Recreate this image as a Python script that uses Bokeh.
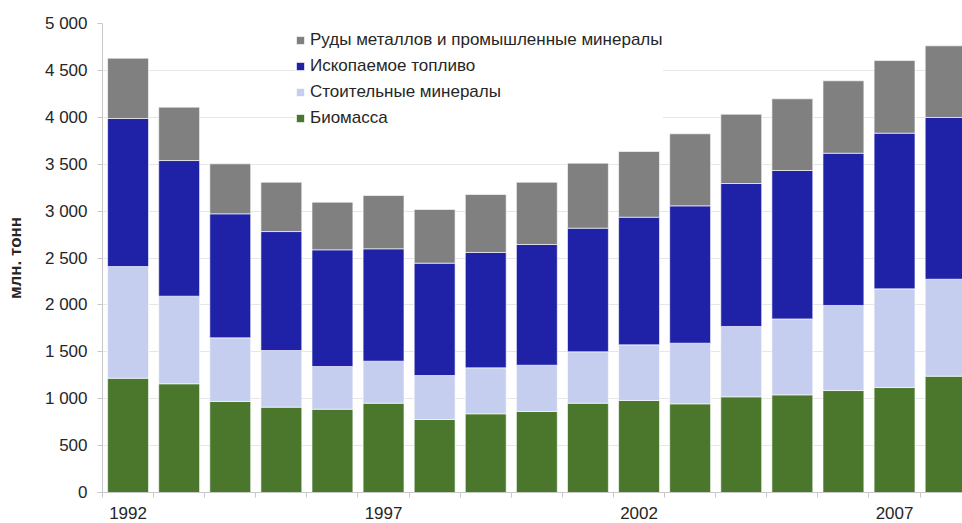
from bokeh.plotting import figure
from bokeh.models import Range1d, FixedTicker, Legend, LegendItem
from bokeh.embed import file_html
from bokeh.resources import INLINE

years = list(range(1992, 2009))
biomass = [1218, 1159, 970, 910, 888, 952, 778, 839, 864, 952, 981, 945, 1020, 1041, 1087, 1119, 1240]
construction = [1191, 934, 679, 604, 455, 448, 469, 490, 493, 548, 593, 647, 750, 810, 907, 1052, 1034]
fossil = [1578, 1446, 1322, 1268, 1244, 1198, 1198, 1230, 1287, 1318, 1361, 1464, 1524, 1582, 1623, 1660, 1724]
ores = [643, 569, 533, 526, 508, 568, 572, 618, 664, 693, 700, 768, 739, 764, 772, 774, 764]

series_keys = ["biomass", "construction", "fossil", "ores"]
series_names = ["Биомасса", "Стоительные минералы", "Ископаемое топливо",
                "Руды металлов и промышленные минералы"]
colors = ["#4a772c", "#c5ceee", "#1f21a6", "#808080"]

label_years = [1992, 1997, 2002, 2007]
y_ticks = list(range(0, 5001, 500))
y_tick_labels = {v: f"{v:,}".replace(",", " ") for v in y_ticks}
y_title = "млн. тонн"

data = dict(years=years, biomass=biomass, construction=construction, fossil=fossil, ores=ores)

FONT = "Liberation Sans"

p = figure(width=962, height=523, output_backend="svg", toolbar_location=None,
           x_range=Range1d(years[0] - 0.5, years[-1] + 0.33), y_range=Range1d(0, 5000),
           min_border_left=102, min_border_right=0, min_border_top=23, min_border_bottom=31)
p.outline_line_color = None
p.background_fill_color = "white"

renderers = p.vbar_stack(series_keys, x="years", width=0.8, source=data, color=colors,
                         line_color="white", line_alpha=0.6, line_width=1)

# grid
p.xgrid.grid_line_color = None
p.ygrid.grid_line_color = "#e6e6e6"
p.ygrid.grid_line_width = 1

# y axis
p.yaxis.ticker = FixedTicker(ticks=y_ticks)
p.yaxis.major_label_overrides = y_tick_labels
p.yaxis.axis_line_color = "#c8c8c8"
p.yaxis.major_tick_line_color = "#c8c8c8"
p.yaxis.major_tick_in = 0
p.yaxis.major_tick_out = 5
p.yaxis.minor_tick_line_color = None
p.yaxis.major_label_text_font = FONT
p.yaxis.major_label_text_font_size = "17px"
p.yaxis.major_label_text_color = "#262626"
p.yaxis.major_label_standoff = 10
p.yaxis.axis_label = y_title
p.yaxis.axis_label_text_font = FONT
p.yaxis.axis_label_text_font_size = "17px"
p.yaxis.axis_label_text_font_style = "bold"
p.yaxis.axis_label_text_color = "#262626"
p.yaxis.axis_label_standoff = 17

# x axis
boundaries = [y - 0.5 for y in years] + [years[-1] + 0.5]
p.xaxis.ticker = FixedTicker(ticks=label_years, minor_ticks=boundaries)
p.xaxis.axis_line_color = "#c8c8c8"
p.xaxis.major_tick_line_color = None
p.xaxis.minor_tick_line_color = "#c8c8c8"
p.xaxis.minor_tick_in = 0
p.xaxis.minor_tick_out = 5
p.xaxis.major_label_text_font = FONT
p.xaxis.major_label_text_font_size = "17px"
p.xaxis.major_label_text_color = "#262626"
p.xaxis.major_label_standoff = 8

# legend (top item first)
items = [LegendItem(label=series_names[i], renderers=[renderers[i]]) for i in reversed(range(4))]
legend = Legend(items=items, location=(193, 364), orientation="vertical",
                label_text_font=FONT, label_text_font_size="17px", label_text_color="#262626",
                glyph_width=10, glyph_height=10, label_standoff=5,
                label_height=20, spacing=6, padding=6, margin=0,
                border_line_color=None, background_fill_color="white", background_fill_alpha=1)
p.add_layout(legend)

open("out.html", "w").write(file_html(p, INLINE))
